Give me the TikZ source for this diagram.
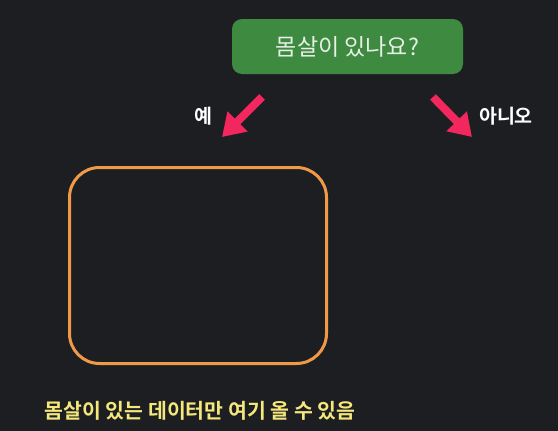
\documentclass[tikz,border=0pt]{standalone}
\usepackage{fontspec}
\newfontfamily\kr{Noto Sans CJK KR}
\newfontfamily\krb{Noto Sans CJK KR Bold}
\usetikzlibrary{arrows.meta}
\definecolor{bgcol}{HTML}{1D1E22}
\definecolor{qgreen}{HTML}{3E8A41}
\definecolor{qtext}{HTML}{E6F0E4}
\definecolor{arrowpink}{HTML}{F2275E}
\definecolor{boxorange}{HTML}{F09A48}
\definecolor{noteyellow}{HTML}{F4E87C}
\tikzset{
 pinkarrow/.style={draw=arrowpink,line width=8pt,-{Triangle[width=27pt,length=22pt]}},
 hand/.style={text=white,font=\krb\fontsize{19.5}{23}\selectfont}
}
\begin{document}
\begin{tikzpicture}[x=1pt,y=-1pt]
 \fill[bgcol] (0,0) rectangle (558,431);
 \node (q) at (347.5,46.5) [shape=rectangle,rounded corners=10pt,fill=qgreen,minimum width=231pt,minimum height=55pt,text=qtext,font=\kr\fontsize{23}{27}\selectfont] {몸살이 있나요?};
 \coordinate (yes tail) at (262,97);
 \coordinate (yes tip) at (222,137);
 \coordinate (no tail) at (433,97);
 \coordinate (no tip) at (472,137);
 \draw[pinkarrow] (yes tail) -- (yes tip);
 \draw[pinkarrow] (no tail) -- (no tip);
 \node (yes) at (203,116) [hand] {예};
 \node (no) at (506,116) [hand] {아니오};
 \node (box) at (198,265.5) [shape=rectangle,draw=boxorange,line width=3pt,rounded corners=30pt,minimum width=257pt,minimum height=196pt] {};
 \node (note) at (200,411) [hand,text=noteyellow,font=\krb\fontsize{20.5}{24}\selectfont] {몸살이 있는 데이터만 여기 올 수 있음};
\end{tikzpicture}
\end{document}
